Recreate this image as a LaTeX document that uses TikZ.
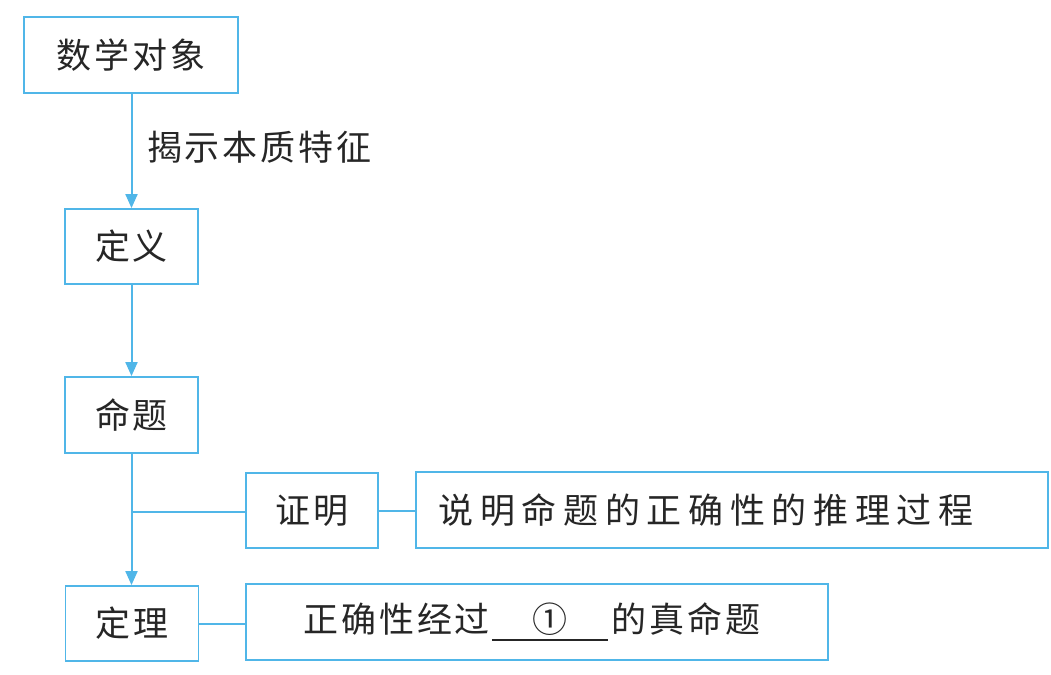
\documentclass[tikz,border=0pt]{standalone}
\usepackage{fontspec}
\usetikzlibrary{arrows.meta}
\newfontfamily\cjk{Noto Sans CJK SC}
\newfontfamily\cjkwide[LetterSpace=19]{Noto Sans CJK SC}
\newfontfamily\cjkmid[LetterSpace=8]{Noto Sans CJK SC}
\definecolor{lblue}{RGB}{80,182,232}
\begin{document}
\begin{tikzpicture}[x=1pt,y=-1pt,
  box/.style={draw=lblue,line width=1.8pt,fill=white,inner sep=0pt,
    font=\fontsize{35}{40}\selectfont\cjkmid,text=black!85},
  conn/.style={draw=lblue,line width=2pt},
  arr/.style={conn,-{Triangle[length=14pt,width=12pt]}}]
\useasboundingbox (0,0) rectangle (1051,674);
\node[box,minimum width=214pt,minimum height=76pt] (obj) at (131,55) {数学对象};
\node[box,minimum width=133pt,minimum height=75pt] (def) at (131.5,246.5) {定义};
\node[box,minimum width=133pt,minimum height=76pt] (prop) at (131.5,415) {命题};
\node[box,minimum width=132pt,minimum height=75pt] (proof) at (312,510.5) {证明};
\node[box,minimum width=632pt,minimum height=76pt,font=\fontsize{35}{40}\selectfont\cjkwide] (desc) at (732,510) {说明命题的正确性的推理过程\kern52pt};
\node[box,minimum width=133pt,minimum height=75pt] (thm) at (132,623.5) {定理};
\node[box,minimum width=582pt,minimum height=76pt] (res) at (537,622) {正确性经过\kern2pt\hbox to 116pt{\hss{\cjk ①}\hss}\llap{\rule[-9pt]{116pt}{2.2pt}}\kern4pt 的真命题\kern10pt};
\node[anchor=west,inner sep=0pt,font=\fontsize{35}{40}\selectfont\cjkmid,text=black!85] (lab) at (147,147) {揭示本质特征};
\coordinate (br) at (131.5,512);
\draw[arr] (obj.south -| def.north) -- (def.north);
\draw[arr] (def) -- (prop);
\draw[arr] (prop.south) -- (thm.north -| prop.south);
\draw[conn] (br) -- (br -| proof.west);
\draw[conn] (proof.east) -- (proof.east -| desc.west);
\draw[conn] (thm.east) -- (thm.east -| res.west);
\end{tikzpicture}
\end{document}
